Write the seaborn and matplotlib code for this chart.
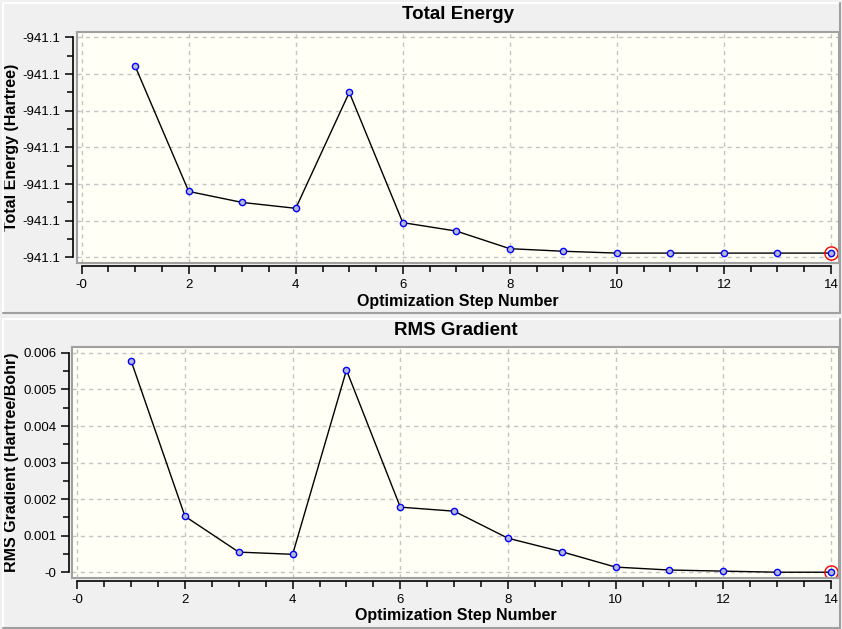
import numpy as np
import pandas as pd
import seaborn as sns
import matplotlib.pyplot as plt
from matplotlib.patches import Rectangle
from matplotlib.lines import Line2D
from matplotlib.ticker import MultipleLocator

# data
steps = [1, 2, 3, 4, 5, 6, 7, 8, 9, 10, 11, 12, 13, 14]
energy = [-941.14079, -941.14420, -941.14450, -941.14466, -941.14150,
          -941.14505, -941.14528, -941.14576, -941.14583, -941.14588,
          -941.14588, -941.14588, -941.14588, -941.14588]
rms_grad = [0.00578, 0.00153, 0.00055, 0.00049, 0.00553, 0.00178, 0.00167,
            0.00093, 0.00056, 0.00014, 0.00006, 0.00003, 0.00000, 0.00000]

step_ticks = [0, 2, 4, 6, 8, 10, 12, 14]
step_ticklabels = ["-0", "2", "4", "6", "8", "10", "12", "14"]
energy_ticks = [-941.146, -941.145, -941.144, -941.143, -941.142, -941.141, -941.140]
energy_ticklabels = ["-941.1"] * 7
rms_ticks = [0.0, 0.001, 0.002, 0.003, 0.004, 0.005, 0.006]
rms_ticklabels = ["-0", "0.001", "0.002", "0.003", "0.004", "0.005", "0.006"]

df = pd.DataFrame({'step': steps, 'energy': energy, 'rms': rms_grad})

sns.set_theme(style='ticks')
plt.rcParams['font.family'] = ['Liberation Sans', 'DejaVu Sans']
plt.rcParams['text.color'] = 'black'
plt.rcParams['axes.labelcolor'] = 'black'

W, H = 842, 629
BG = '#F0F0F0'
fig = plt.figure(figsize=(W / 100, H / 100), dpi=100, facecolor=BG)


def px_rect(x0, y0, x1, y1):
    # pixel box (top-down) -> figure fraction [left, bottom, width, height]
    return [x0 / W, 1 - y1 / H, (x1 - x0) / W, (y1 - y0) / H]


def frame(x0, y0, x1, y1):
    fx0, fx1 = x0 / W, x1 / W
    fy0, fy1 = 1 - y0 / H, 1 - y1 / H
    for xs, ys, c in [([fx0, fx1], [fy0, fy0], 'white'),
                      ([fx0, fx0], [fy0, fy1], 'white'),
                      ([fx0, fx1], [fy1, fy1], '#A0A0A0'),
                      ([fx1, fx1], [fy0, fy1], '#A0A0A0')]:
        fig.add_artist(Line2D(xs, ys, color=c, lw=1.5, transform=fig.transFigure))


frame(3, 3, 840, 313)
frame(3, 319, 840, 627.5)


def draw_panel(ax, col, title, ylabel, yticks, yticklabels):
    ax.set_facecolor('#FFFFF6')
    ax.set_axisbelow(True)
    ax.grid(True, which='major', color='#C4C4C4', ls=(0, (3, 3)), lw=1)
    sns.lineplot(data=df, x='step', y=col, ax=ax, color='black', lw=1,
                 marker='o', markersize=4.5, markerfacecolor='#B8B8D8',
                 markeredgecolor='#0000FF', markeredgewidth=1)
    # current point highlighted with a red ring
    ax.plot(df['step'].iloc[-1], df[col].iloc[-1], 'o', ms=9.5,
            mfc='none', mec='red', mew=1, ls=(0, (1, 1)))

    ystep = yticks[1] - yticks[0]
    ax.set_xlim(-0.093, 14.15)
    ax.set_ylim(yticks[0] - 0.15 * ystep, yticks[-1] + 0.153 * ystep)
    ax.set_xticks(step_ticks)
    ax.set_yticks(yticks)
    ax.xaxis.set_minor_locator(MultipleLocator(0.5))
    ax.yaxis.set_minor_locator(MultipleLocator(ystep / 2))
    sns.despine(ax=ax, offset=2.5, trim=True)
    ax.set_xticklabels(step_ticklabels)
    ax.set_yticklabels(yticklabels)
    for s in ['left', 'bottom']:
        ax.spines[s].set_color('black')
        ax.spines[s].set_linewidth(1.2)
    ax.tick_params(which='major', length=6, width=1.1, color='black',
                   labelsize=9.5, labelcolor='black', pad=3)
    ax.tick_params(which='minor', length=4, width=1.1, color='black')
    ax.add_patch(Rectangle((0, 0), 1, 1, transform=ax.transAxes, fill=False,
                           ec='#A0A0A0', lw=1.5, clip_on=False, zorder=5))

    ax.set_title(title, fontsize=13.5, fontweight='bold', pad=9,
                 color='black')
    ax.set_xlabel('Optimization Step Number', fontsize=11.5,
                  fontweight='bold', labelpad=2)
    ax.set_ylabel(ylabel, fontsize=11.5, fontweight='bold', labelpad=3)


ax1 = fig.add_axes(px_rect(76.7, 31.7, 839, 263))
draw_panel(ax1, 'energy', 'Total Energy', 'Total Energy (Hartree)',
           energy_ticks, energy_ticklabels)

ax2 = fig.add_axes(px_rect(72.3, 347.3, 839, 577.7))
draw_panel(ax2, 'rms', 'RMS Gradient', 'RMS Gradient (Hartree/Bohr)',
           rms_ticks, rms_ticklabels)

fig.savefig('out.png', dpi=100, facecolor=BG)
